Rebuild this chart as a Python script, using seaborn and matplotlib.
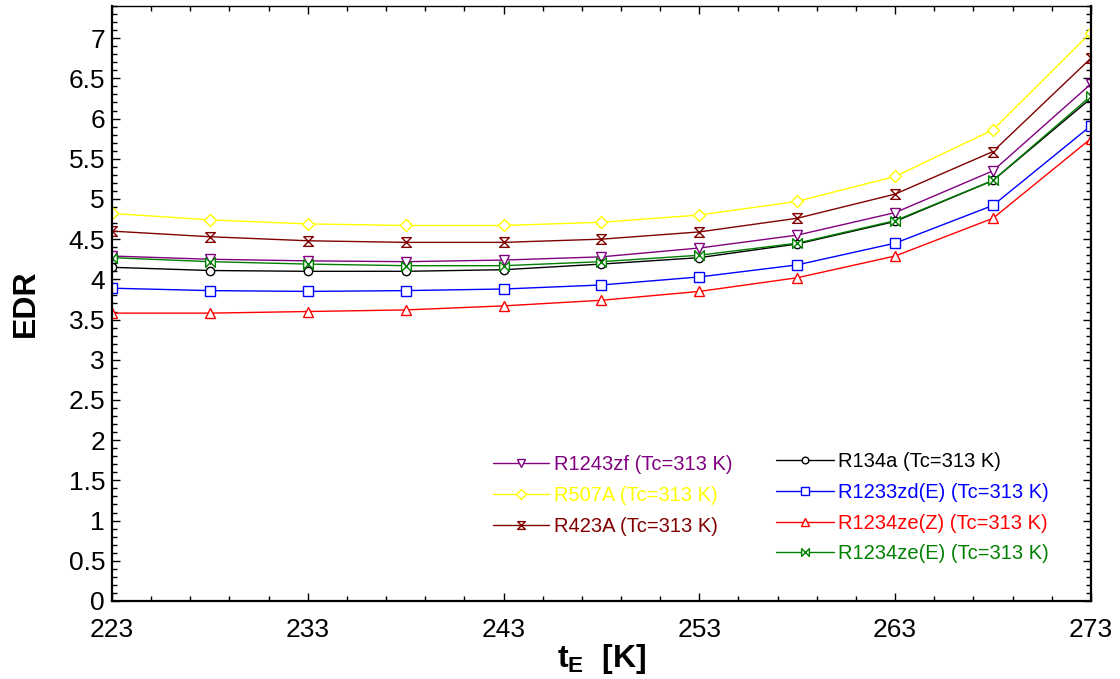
import numpy as np
import pandas as pd
import matplotlib
matplotlib.use('Agg')
import matplotlib.pyplot as plt
import seaborn as sns
from matplotlib.path import Path
from matplotlib.lines import Line2D
from matplotlib.ticker import MultipleLocator, FuncFormatter

t_evap = [223, 228, 233, 238, 243, 248, 253, 258, 263, 268, 273]

edr_r1243zf = [4.29, 4.25, 4.23, 4.22, 4.24, 4.28, 4.39, 4.55, 4.83, 5.35, 6.43]
edr_r507a = [4.82, 4.74, 4.69, 4.67, 4.67, 4.71, 4.80, 4.97, 5.28, 5.86, 7.07]
edr_r423a = [4.60, 4.53, 4.48, 4.46, 4.46, 4.50, 4.59, 4.76, 5.06, 5.59, 6.75]
edr_r134a = [4.15, 4.11, 4.10, 4.10, 4.12, 4.19, 4.27, 4.44, 4.72, 5.23, 6.25]
edr_r1233zd = [3.89, 3.86, 3.85, 3.86, 3.88, 3.93, 4.03, 4.18, 4.45, 4.92, 5.91]
edr_r1234zez = [3.58, 3.58, 3.60, 3.62, 3.67, 3.74, 3.85, 4.02, 4.29, 4.76, 5.75]
edr_r1234zee = [4.27, 4.22, 4.19, 4.17, 4.17, 4.22, 4.30, 4.45, 4.73, 5.23, 6.28]

labels = ['R1243zf (Tc=313 K)', 'R507A (Tc=313 K)', 'R423A (Tc=313 K)',
          'R134a (Tc=313 K)', 'R1233zd(E) (Tc=313 K)', 'R1234ze(Z) (Tc=313 K)',
          'R1234ze(E) (Tc=313 K)']
series = [edr_r1243zf, edr_r507a, edr_r423a, edr_r134a, edr_r1233zd,
          edr_r1234zez, edr_r1234zee]
colors = ['#800080', '#FFFF00', '#800000', '#000000', '#0000FF', '#FF0000', '#008000']

x_major = [223, 233, 243, 253, 263, 273]

hourglass = Path([(-1, 1), (1, 1), (-1, -1), (1, -1), (-1, 1)])
bowtie = Path([(-1, 1), (-1, -1), (1, 1), (1, -1), (-1, 1)])
markers = ['v', 'D', hourglass, 'o', 's', '^', bowtie]
msizes = [7, 6, 7, 6, 7, 7, 7]

df = pd.DataFrame({
    'tE': np.tile(t_evap, len(labels)),
    'EDR': np.concatenate(series),
    'fluid': np.repeat(labels, len(t_evap)),
})

sns.set_style('ticks')
plt.rcParams['font.family'] = ['Liberation Sans', 'DejaVu Sans']
plt.rcParams['text.color'] = 'black'
plt.rcParams['axes.labelcolor'] = 'black'
plt.rcParams['xtick.color'] = 'black'
plt.rcParams['ytick.color'] = 'black'
plt.rcParams['axes.edgecolor'] = 'black'
plt.rcParams['mathtext.fontset'] = 'custom'
plt.rcParams['mathtext.rm'] = 'Liberation Sans'
plt.rcParams['mathtext.bf'] = 'Liberation Sans:bold'
plt.rcParams['mathtext.it'] = 'Liberation Sans:italic'

fig = plt.figure(figsize=(11.2, 6.79), dpi=100)
ax = fig.add_axes([0.1, 0.1149, 0.874, 0.8763])

for lab, c, m, ms in zip(labels, colors, markers, msizes):
    sns.lineplot(data=df[df['fluid'] == lab], x='tE', y='EDR', ax=ax,
                 color=c, marker=m, markersize=ms, markerfacecolor='white',
                 markeredgecolor=c, markeredgewidth=1.0, linewidth=1.0,
                 legend=False)

ax.set_xlim(223, 273)
ax.set_ylim(0, 7.4)
ax.set_xticks(x_major)
ax.set_xticks(np.arange(223, 274, 2), minor=True)
ax.yaxis.set_major_locator(MultipleLocator(0.5))
ax.yaxis.set_minor_locator(MultipleLocator(0.1))
ax.yaxis.set_major_formatter(FuncFormatter(lambda v, p: f'{v:g}'))

ax.tick_params(which='both', direction='in', top=True, right=True, width=1.0,
               color='black', labelcolor='black')
ax.tick_params(which='major', length=6)
ax.tick_params(which='minor', length=3.5)
ax.tick_params(axis='x', which='major', labelsize=19, pad=12)
ax.tick_params(axis='y', which='major', labelsize=19, pad=5)

for side in ['left', 'bottom', 'right']:
    ax.spines[side].set_linewidth(1.6)
ax.spines['top'].set_linewidth(1.0)

ax.set_xlabel(r'$\mathbf{t_E}$  [K]', fontsize=23, fontweight='bold', labelpad=0)
ax.set_ylabel('EDR', fontsize=23, fontweight='bold', labelpad=20)

handles = [Line2D([], [], color=c, marker=m, markersize=ms * 0.8,
                  markerfacecolor='white', markeredgecolor=c, linewidth=1.0)
           for c, m, ms in zip(colors, markers, msizes)]

leg1 = ax.legend(handles[:3], labels[:3], loc='upper left',
                 bbox_to_anchor=(0.389, 0.245), frameon=False, fontsize=14.5,
                 labelcolor='linecolor', borderpad=0, borderaxespad=0,
                 handlelength=2.8, handletextpad=0.25, labelspacing=0.6,
                 numpoints=1)
ax.add_artist(leg1)
ax.legend(handles[3:], labels[3:], loc='upper left',
          bbox_to_anchor=(0.678, 0.25), frameon=False, fontsize=14.5,
          labelcolor='linecolor', borderpad=0, borderaxespad=0,
          handlelength=2.9, handletextpad=0.2, labelspacing=0.58,
          numpoints=1)

fig.savefig('out.png', dpi=100)
